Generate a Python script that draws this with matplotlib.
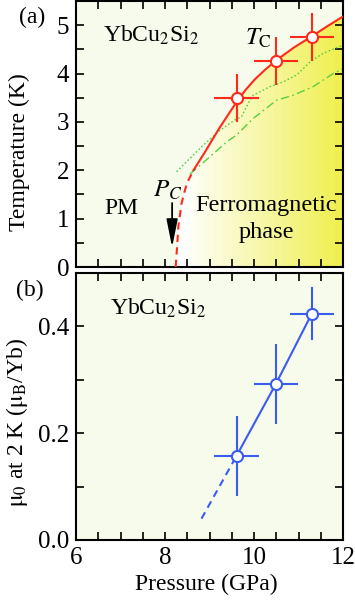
import numpy as np
import matplotlib
matplotlib.use("Agg")
import matplotlib.pyplot as plt
from matplotlib.ticker import MultipleLocator, FormatStrFormatter
from matplotlib.colors import to_rgb

plt.rcParams['font.family'] = ['Liberation Serif', 'DejaVu Serif']
plt.rcParams['mathtext.fontset'] = 'stix'
plt.rcParams['font.size'] = 17

# ---- data ----
tc_P = [9.61, 10.49, 11.30]
tc_T = [3.50, 4.26, 4.75]
tc_Perr = [0.5, 0.5, 0.5]
tc_Terr = [0.5, 0.5, 0.5]

# red Tc boundary curve (read points)
curve_dash_P = [8.24, 8.27, 8.30, 8.37, 8.49, 8.64]
curve_dash_T = [0.00, 0.40, 0.83, 1.31, 1.73, 2.00]
curve_solid_P = [8.64, 8.90, 9.20, 9.42, 9.60, 9.80, 10.02, 10.25, 10.51, 10.90, 11.30, 11.65, 12.00]
curve_solid_T = [2.00, 2.38, 2.84, 3.15, 3.40, 3.65, 3.88, 4.08, 4.28, 4.54, 4.77, 4.98, 5.18]

# green dotted line
dot_P = [8.26, 8.86, 9.24, 9.57, 9.72, 9.87, 9.98, 10.36, 10.66, 10.96, 11.26, 11.56, 12.0]
dot_T = [1.97, 2.52, 2.83, 3.04, 3.11, 3.38, 3.55, 3.73, 3.83, 3.97, 4.24, 4.42, 4.59]

# green dash-dot line
dd_P = [8.56, 9.01, 9.39, 9.61, 9.98, 10.51, 10.88, 11.33, 11.78, 12.0]
dd_T = [1.92, 2.28, 2.59, 2.73, 3.07, 3.45, 3.55, 3.73, 4.00, 4.10]

# moment data
mu_P = [9.61, 10.49, 11.30]
mu_val = [0.158, 0.292, 0.424]
mu_Perr = [0.5, 0.5, 0.5]
mu_err = [0.075, 0.075, 0.05]
mu_ext_P = [8.82, 9.61]
mu_ext_val = [0.040, 0.158]

bg = '#f6fbec'
red = '#ff2a1a'
blue = '#3a5cf0'
green = '#55d040'

fig = plt.figure(figsize=(3.55, 6.01), dpi=100)
W, H = 355, 601
axa = fig.add_axes([76/W, 1-267/H, 267/W, 266/H])
axb = fig.add_axes([76/W, 1-540/H, 267/W, 267/H])

for ax in (axa, axb):
    ax.set_facecolor(bg)
    ax.set_xlim(6, 12)
    ax.xaxis.set_major_locator(MultipleLocator(2))
    ax.xaxis.set_minor_locator(MultipleLocator(0.5))
    ax.tick_params(which='both', direction='in', top=True, right=True, width=1.2,
                   labelsize=18, pad=5)
    ax.tick_params(which='major', length=6)
    ax.tick_params(which='minor', length=6)
    for s in ax.spines.values():
        s.set_linewidth(1.5)

# ---- panel (a) ----
axa.set_ylim(0, 5.5)
axa.yaxis.set_major_locator(MultipleLocator(1))
axa.yaxis.set_minor_locator(MultipleLocator(0.5))
axa.tick_params(labelbottom=False)
axa.set_ylabel('Temperature (K)', fontsize=17, va='center')
axa.yaxis.set_label_coords(-0.213, 0.43)

# yellow gradient fill under curve
allP = np.array(curve_dash_P + curve_solid_P[1:])
allT = np.array(curve_dash_T + curve_solid_T[1:])
poly = axa.fill_between(allP, 0, allT, color='none', lw=0)
nx = 256
g = np.linspace(0, 1, nx)
w = np.clip((g - 0.04) / 0.96, 0, 1) ** 1.0
c0 = np.array(to_rgb('#ffffff'))
c1 = np.array(to_rgb('#efef4c'))
img = (c0[None, :] * (1 - w[:, None]) + c1[None, :] * w[:, None])[None, :, :]
im = axa.imshow(img, extent=[8.24, 12, 0, 5.5], aspect='auto', zorder=0.5, interpolation='bilinear')
path = poly.get_paths()[0]
im.set_clip_path(path, transform=axa.transData)
axa.set_xlim(6, 12)
axa.set_ylim(0, 5.5)

axa.plot(dot_P, dot_T, color=green, lw=1.0, ls=(0, (1.2, 1.6)), zorder=2)
axa.plot(dd_P, dd_T, color=green, lw=1.0, ls=(0, (6, 2.5, 1.2, 2.5)), zorder=2)
axa.plot(curve_dash_P, curve_dash_T, color=red, lw=1.5, ls=(0, (3.5, 2.5)), zorder=3)
axa.plot(curve_solid_P, curve_solid_T, color=red, lw=1.5, zorder=3)
axa.errorbar(tc_P, tc_T, xerr=tc_Perr, yerr=tc_Terr, fmt='o', color=red, ms=8,
             mfc='white', mec=red, mew=1.5, elinewidth=1.5, capsize=0, zorder=4)

axa.text(6.6, 4.78, 'YbCu$_2$Si$_2$', ha='left', va='center', fontsize=17)
axa.text(10.09, 4.72, '$T_\\mathrm{C}$', ha='center', va='center', fontsize=18)
axa.text(7.03, 1.2, 'PM', ha='center', va='center', fontsize=17)
axa.text(8.07, 1.58, '$P_C$', ha='center', va='center', fontsize=18)
axa.annotate('', xy=(8.16, 0.35), xytext=(8.16, 1.38),
             arrowprops=dict(arrowstyle='-|>,head_length=1.0,head_width=0.2', color='black', lw=1.3))
axa.text(10.28, 1.28, 'Ferromagnetic', ha='center', va='center', fontsize=17.5)
axa.text(10.28, 0.72, 'phase', ha='center', va='center', fontsize=17.5)

# ---- panel (b) ----
axb.set_ylim(0, 0.5)
axb.yaxis.set_major_locator(MultipleLocator(0.2))
axb.yaxis.set_minor_locator(MultipleLocator(0.1))
axb.yaxis.set_major_formatter(FormatStrFormatter('%.1f'))
axb.set_xlabel('Pressure (GPa)', fontsize=17, va='center')
axb.xaxis.set_label_coords(0.489, -0.165)
axb.set_ylabel('$\\mathrm{\\mu_0}$ at 2 K ($\\mathrm{\\mu_B}$/Yb)', fontsize=17, va='center')
axb.yaxis.set_label_coords(-0.221, 0.44)

axb.plot(mu_ext_P, mu_ext_val, color=blue, lw=1.5, ls=(0, (3.5, 2.5)), zorder=2)
axb.errorbar(mu_P, mu_val, xerr=mu_Perr, yerr=mu_err, fmt='o-', color=blue, ms=8,
             mfc='white', mec=blue, mew=1.5, lw=1.5, elinewidth=1.5, capsize=0, zorder=4)
axb.text(6.76, 0.433, 'YbCu$_2$Si$_2$', ha='left', va='center', fontsize=17)

fig.text(32/W, 1-17/H, '(a)', ha='center', va='center', fontsize=17)
fig.text(30/W, 1-290/H, '(b)', ha='center', va='center', fontsize=17)

fig.savefig('out.png', dpi=100)
